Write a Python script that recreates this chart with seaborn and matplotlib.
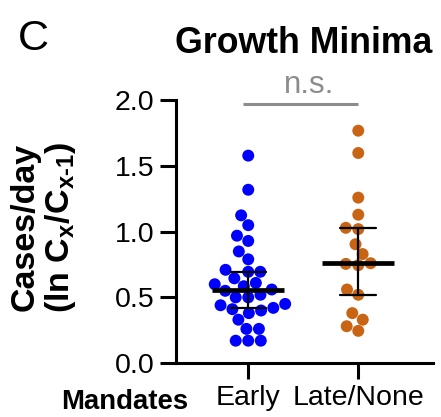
import math
import numpy as np
import pandas as pd
import matplotlib
matplotlib.use("Agg")
import matplotlib.pyplot as plt
import seaborn as sns

# values
groups = ["Early", "Late/None"]
early = [1.58, 1.32, 1.125, 1.05, 0.97, 0.93, 0.85, 0.79, 0.71, 0.695, 0.695,
         0.645, 0.61, 0.60, 0.585, 0.56, 0.55, 0.52, 0.50, 0.50, 0.45, 0.44,
         0.42, 0.41, 0.40, 0.38, 0.33, 0.26, 0.26, 0.17, 0.17, 0.17]
late = [1.77, 1.60, 1.26, 1.13, 1.03, 1.02, 0.905, 0.83, 0.745, 0.76, 0.755,
        0.52, 0.56, 0.33, 0.38, 0.28, 0.245]
yticks = [0.0, 0.5, 1.0, 1.5, 2.0]
colors = {"Early": "#0000FF", "Late/None": "#C86414"}


def median_ci(vals):
    # nonparametric 95% CI of the median (order statistics, binomial)
    v = np.sort(np.asarray(vals))
    n = len(v)
    cdf = np.cumsum([math.comb(n, i) for i in range(n + 1)]) / 2 ** n
    k = int(np.sum(cdf <= 0.025))
    return v[k - 1], v[n - k]


def main():
    df = pd.DataFrame({
        "group": ["Early"] * len(early) + ["Late/None"] * len(late),
        "value": early + late,
    })

    sns.set_style("ticks")
    plt.rcParams["font.family"] = ["Liberation Sans", "DejaVu Sans"]
    plt.rcParams["text.color"] = "black"
    plt.rcParams["mathtext.fontset"] = "custom"
    plt.rcParams["mathtext.rm"] = "Liberation Sans:bold"
    plt.rcParams["mathtext.it"] = "Liberation Sans:bold"
    plt.rcParams["mathtext.bf"] = "Liberation Sans:bold"

    fig = plt.figure(figsize=(4.41, 4.17), dpi=100)
    ax = fig.add_axes([0.399, 0.1295, 0.5828, 0.6295])

    sns.swarmplot(data=df, x="group", y="value", hue="group", order=groups,
                  palette=colors, size=8.6, linewidth=0, legend=False, ax=ax)
    sns.pointplot(data=df, x="group", y="value", order=groups,
                  estimator=np.median, errorbar=median_ci, color="black",
                  linestyle="none", marker="_", capsize=0.33,
                  err_kws={"linewidth": 1.6}, ax=ax)
    # median bars: long and thick, on top of the dots
    for line in ax.lines:
        line.set_zorder(5)
        if line.get_marker() == "_":
            line.set_markersize(52)
            line.set_markeredgewidth(3.4)

    ax.set_xlim(-0.657, 1.679)
    ax.set_ylim(0, 2.0)
    ax.set_yticks(yticks)
    ax.set_yticklabels([f"{t:.1f}" for t in yticks])
    ax.set_xlabel("")
    ax.set_ylabel("")
    sns.despine(ax=ax)
    for s in ["left", "bottom"]:
        ax.spines[s].set_linewidth(2.2)
        ax.spines[s].set_color("black")
    ax.tick_params(axis="both", length=11.5, width=2.2, color="black",
                   labelsize=20.5, pad=4, labelcolor="black")

    # significance bar
    ax.plot([-0.05, 1.0], [1.977, 1.977], color="#8c8c8c", lw=2.2,
            clip_on=False, solid_capstyle="butt")
    ax.text(0.55, 2.057, "n.s.", color="#8c8c8c", fontsize=22.5, ha="center",
            va="baseline", clip_on=False)

    fig.text(0.1, 0.455, "Cases/day\n(ln C$_\\mathrm{x}$/C$_\\mathrm{x\\text{-}1}$)",
             rotation=90, ha="center", va="center", fontsize=24.5,
             fontweight="bold", linespacing=1.1, multialignment="center")
    fig.text(188 / 441, 1 - 409 / 417, "Mandates", fontsize=19.8,
             fontweight="bold", ha="right", va="baseline")
    fig.text(175 / 441, 1 - 53 / 417, "Growth Minima", fontsize=25.7,
             fontweight="bold", ha="left", va="baseline")
    fig.text(18 / 441, 1 - 50 / 417, "C", fontsize=31, ha="left",
             va="baseline")

    fig.savefig("out.png", dpi=100)


if __name__ == "__main__":
    main()
